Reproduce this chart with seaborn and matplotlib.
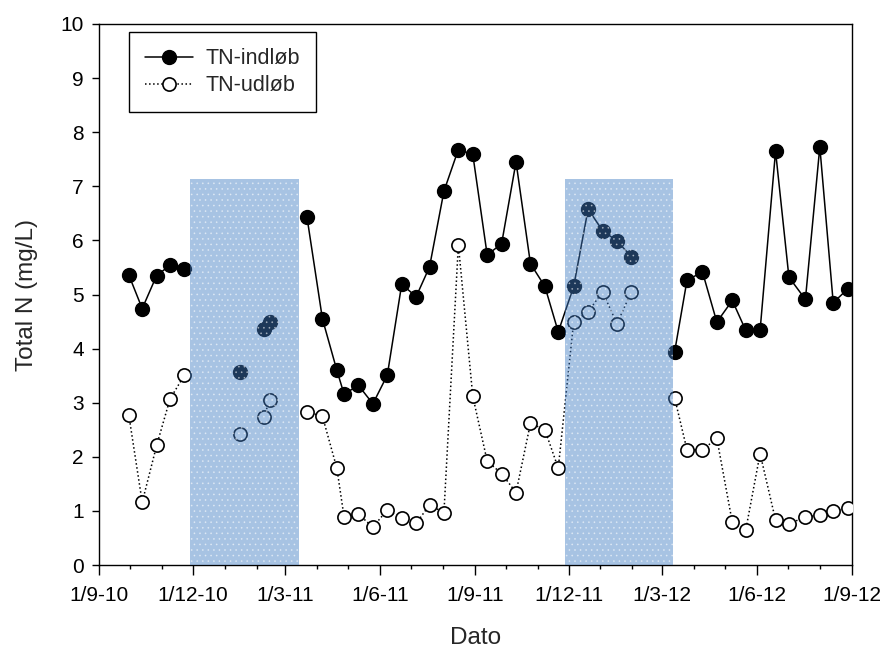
import matplotlib
matplotlib.use("Agg")
import matplotlib.pyplot as plt
import matplotlib.dates as mdates
from matplotlib.ticker import FuncFormatter, MultipleLocator
from matplotlib.lines import Line2D
import numpy as np
import pandas as pd
import seaborn as sns

# ---------------- data ----------------
dates = [
    "2010-09-30", "2010-10-13", "2010-10-27", "2010-11-09", "2010-11-23",
    "2011-01-16",
    "2011-02-08", "2011-02-14",
    "2011-03-22", "2011-04-06", "2011-04-20", "2011-04-27", "2011-05-11", "2011-05-25",
    "2011-06-08", "2011-06-22", "2011-07-06", "2011-07-19", "2011-08-02", "2011-08-16",
    "2011-08-30", "2011-09-13", "2011-09-27", "2011-10-11", "2011-10-25", "2011-11-08",
    "2011-11-21", "2011-12-06", "2011-12-20", "2012-01-03", "2012-01-17", "2012-01-31",
    "2012-03-13", "2012-03-25", "2012-04-09", "2012-04-23", "2012-05-08", "2012-05-21",
    "2012-06-04", "2012-06-19", "2012-07-02", "2012-07-18", "2012-08-01", "2012-08-14",
    "2012-08-28",
]
# sampling periods (lines are broken between periods)
segment = [0] * 5 + [1] * 1 + [2] * 2 + [3] * 24 + [4] * 13

tn_indlob = [
    5.36, 4.74, 5.35, 5.54, 5.47,
    3.56,
    4.37, 4.49,
    6.43, 4.55, 3.60, 3.16, 3.32, 2.98, 3.51, 5.19, 4.96, 5.51, 6.91, 7.68, 7.59, 5.73,
    5.94, 7.45, 5.57, 5.15, 4.31, 5.15, 6.58, 6.18, 5.99, 5.70,
    3.94, 5.26, 5.42, 4.49, 4.89, 4.34, 4.34, 7.65, 5.32, 4.91, 7.73, 4.85, 5.10,
]
tn_udlob = [
    2.77, 1.16, 2.21, 3.07, 3.51,
    2.42,
    2.74, 3.05,
    2.83, 2.75, 1.79, 0.89, 0.94, 0.70, 1.02, 0.86, 0.77, 1.11, 0.97, 5.92, 3.12, 1.92,
    1.69, 1.34, 2.62, 2.50, 1.79, 4.50, 4.68, 5.05, 4.46, 5.05,
    3.09, 2.13, 2.13, 2.34, 0.79, 0.64, 2.06, 0.83, 0.76, 0.89, 0.92, 1.00, 1.05,
]
series_labels = ["TN-indløb", "TN-udløb"]

# winter (shaded) periods
shade_start = ["2010-11-28", "2011-11-28"]
shade_end = ["2011-03-14", "2012-03-11"]
shade_top = [7.13, 7.13]

x_range = ["2010-09-01", "2012-09-01"]
y_range = [0, 10]

# ---------------- plot ----------------
sns.set_style("ticks")
plt.rcParams["font.family"] = ["Liberation Sans", "DejaVu Sans"]
plt.rcParams["hatch.linewidth"] = 0.5

df = pd.DataFrame({
    "date": pd.to_datetime(dates),
    "segment": segment,
    "indlob": tn_indlob,
    "udlob": tn_udlob,
})

fig = plt.figure(figsize=(8.82, 6.52), dpi=100)
ax = fig.add_axes([0.1122, 0.1334, 0.8535, 0.8298])

sns.lineplot(data=df, x="date", y="indlob", units="segment", estimator=None,
             color="black", linewidth=1.1, linestyle="-", marker="o",
             markersize=10, markerfacecolor="black", markeredgecolor="black",
             markeredgewidth=1.0, legend=False, ax=ax, zorder=3)
sns.lineplot(data=df, x="date", y="udlob", units="segment", estimator=None,
             color="black", linewidth=1.1, linestyle=":", marker="o",
             markersize=9.5, markerfacecolor="white", markeredgecolor="black",
             markeredgewidth=1.2, legend=False, ax=ax, zorder=3)

for s, e, t in zip(shade_start, shade_end, shade_top):
    ax.fill_between(pd.to_datetime([s, e]), 0, t, facecolor="#407CC4",
                    edgecolor="white", hatch="...", linewidth=0,
                    alpha=0.46, zorder=5)

ax.set_xlim(pd.Timestamp(x_range[0]), pd.Timestamp(x_range[1]))
ax.set_ylim(*y_range)
ax.yaxis.set_major_locator(MultipleLocator(1))

ax.xaxis.set_major_locator(mdates.MonthLocator(bymonth=[3, 6, 9, 12]))
ax.xaxis.set_minor_locator(mdates.MonthLocator())


def fmt(x, pos):
    d = mdates.num2date(x)
    return f"{d.day}/{d.month}-{d.year % 100:02d}"


ax.xaxis.set_major_formatter(FuncFormatter(fmt))

ax.tick_params(axis="both", which="major", direction="out", width=1,
               labelsize=15, color="black", labelcolor="black")
ax.tick_params(axis="x", which="major", length=7, pad=8)
ax.tick_params(axis="y", which="major", length=5, pad=6)
ax.tick_params(axis="x", which="minor", direction="out", length=3, width=1,
               color="black")
for sp in ax.spines.values():
    sp.set_visible(True)
    sp.set_color("black")
    sp.set_linewidth(1.0)

ax.set_xlabel("Dato", fontsize=17.5, labelpad=16)
ax.set_ylabel("Total N (mg/L)", fontsize=17.5, labelpad=16)

handles = [
    Line2D([], [], color="black", linestyle="-", linewidth=1.1, marker="o",
           markersize=10, markerfacecolor="black", markeredgecolor="black"),
    Line2D([], [], color="black", linestyle=":", linewidth=1.1, marker="o",
           markersize=9.5, markerfacecolor="white", markeredgecolor="black",
           markeredgewidth=1.2),
]
leg = ax.legend(handles, series_labels, loc="upper left",
                bbox_to_anchor=(0.04, 0.985), fontsize=15.5, frameon=True,
                fancybox=False, edgecolor="black", framealpha=1,
                handlelength=2.2, handletextpad=0.6, labelspacing=0.28,
                borderpad=0.75, borderaxespad=0)
leg.get_frame().set_linewidth(1.0)

fig.savefig("out.png", dpi=100)
